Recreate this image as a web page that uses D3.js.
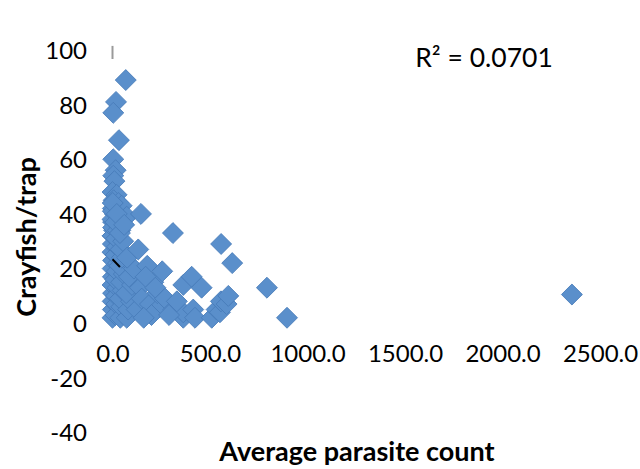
<!DOCTYPE html>
<html>
<head>
<meta charset="utf-8">
<script src="https://cdn.jsdelivr.net/npm/d3@7"></script>
<style>
  body { margin: 0; background: #fff; }
  svg text { font-family: Lato, "Open Sans", sans-serif; fill: #000; }
</style>
</head>
<body>
<svg id="chart" width="640" height="469"></svg>
<script>
// parasite count (x) and crayfish per trap (y)
const parasite = [
  68, 18, 4, 33, 4, 16, 4, 10, 0, 21, 6, 30, 2, 47, 12, 73, 146, 3, 25, 55, 8, 40, 1,
  0, 2, 1, 3, 0, 2, 1, 3, 0, 2, 1, 3, 0, 2, 1,
  15, 20, 18, 25, 14, 22, 28, 16, 24, 19, 27, 15, 22,
  40, 45, 38, 52, 44, 58, 36, 48, 42, 55, 38, 60,
  73, 80, 95, 70, 100, 85, 110, 75, 132,
  124, 141, 150, 178, 192, 209, 244, 255, 230, 200, 170, 220, 270, 160,
  312, 363, 363, 363, 406, 414, 423, 457, 310, 330, 290,
  509, 534, 551, 556, 585, 594, 557, 614, 792, 895, 2356
];
const crayfish = [
  89, 81, 77, 67, 60, 56, 54, 52, 48, 47, 45, 44, 42, 43, 40, 39, 40, 37, 38, 36, 34, 34, 32,
  2, 5, 8, 11, 14, 17, 20, 23, 26, 29, 32, 35, 38, 41, 44,
  3, 7, 10, 13, 16, 19, 22, 25, 28, 31, 34, 37, 40,
  2, 6, 9, 12, 15, 18, 21, 24, 27, 30, 33, 36,
  2, 5, 8, 11, 14, 17, 20, 24, 27,
  5, 13, 9, 21, 7, 15, 6, 19, 11, 3, 17, 13, 9, 2,
  5, 2, 4, 14, 17, 5, 2, 13, 33, 8, 3,
  2, 5, 4, 8, 7, 10, 29, 22, 13, 2, 10.5
];
const xTicks = [0, 500, 1000, 1500, 2000, 2500];
const yTicks = [-40, -20, 0, 20, 40, 60, 80, 100];
const rSquared = "R\u00B2 = 0.0701";
// short trendline stub visible in the picture
const trendX = [0, 38];
const trendY = [23.4, 20.6];

const data = parasite.map((p, i) => ({ x: p, y: crayfish[i] }));

const svg = d3.select("#chart");

const x = d3.scaleLinear().domain([0, 2500]).range([112.5, 600]);
const y = d3.scaleLinear().domain([-40, 100]).range([432.5, 50]);

// y axis labels
const yAxis = svg.append("g")
  .attr("transform", "translate(87,0)")
  .call(d3.axisLeft(y).tickValues(yTicks).tickSize(0).tickPadding(0).tickFormat(d => d));
yAxis.select(".domain").remove();
yAxis.selectAll("text").style("font-size", "24px").attr("dy", "0.35em");

// x axis labels sit below the zero line
const xAxis = svg.append("g")
  .attr("transform", "translate(0," + y(0) + ")")
  .call(d3.axisBottom(x).tickValues(xTicks).tickSize(0).tickPadding(22).tickFormat(d3.format(".1f")));
xAxis.select(".domain").remove();
xAxis.selectAll("text").style("font-size", "24px");

// little grey stub of the vertical axis at the top
svg.append("line")
  .attr("x1", x(0)).attr("x2", x(0))
  .attr("y1", y(101.5)).attr("y2", y(96.7))
  .attr("stroke", "#9a9a9a").attr("stroke-width", 2);

// markers
const diamond = d3.symbol().type(d3.symbolSquare).size(220);
svg.append("g")
  .selectAll("path")
  .data(data)
  .enter()
  .append("path")
  .attr("d", diamond)
  .attr("transform", d => "translate(" + x(d.x) + "," + y(d.y) + ") rotate(45)")
  .attr("fill", "#5a8fcb")
  .attr("stroke", "#477bb8")
  .attr("stroke-width", 0.8);

// trendline
svg.append("line")
  .attr("x1", x(trendX[0])).attr("y1", y(trendY[0]))
  .attr("x2", x(trendX[1])).attr("y2", y(trendY[1]))
  .attr("stroke", "#000").attr("stroke-width", 2);

svg.append("text")
  .attr("x", 484).attr("y", 67)
  .attr("text-anchor", "middle")
  .style("font-size", "26.5px")
  .text(rSquared);

svg.append("text")
  .attr("transform", "translate(36,237) rotate(-90)")
  .attr("text-anchor", "middle")
  .style("font-size", "27px").style("font-weight", "bold")
  .text("Crayfish/trap");

svg.append("text")
  .attr("x", 357).attr("y", 461)
  .attr("text-anchor", "middle")
  .style("font-size", "27px").style("font-weight", "bold")
  .text("Average parasite count");
</script>
</body>
</html>
